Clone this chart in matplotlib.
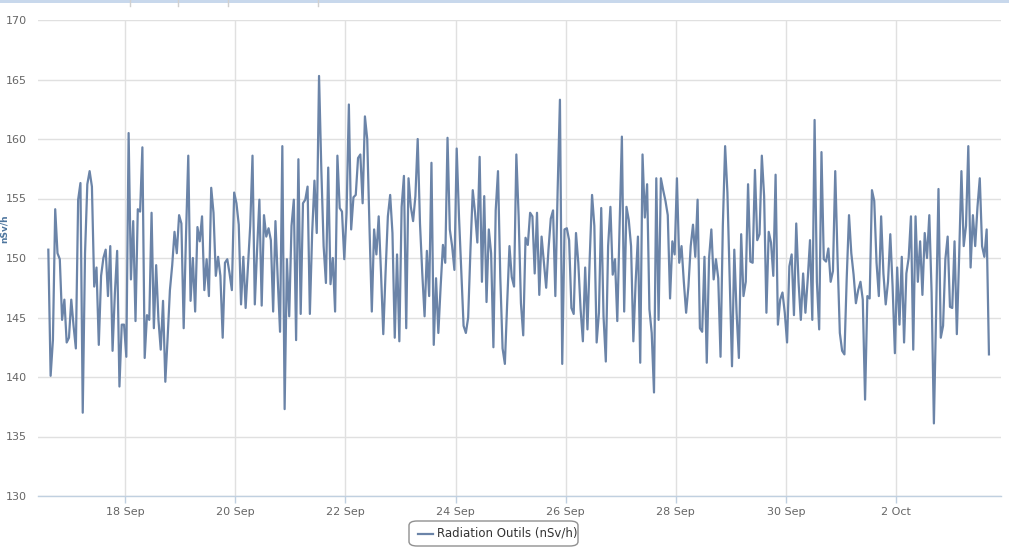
import numpy as np
import pandas as pd
import matplotlib
matplotlib.use('Agg')
import matplotlib.pyplot as plt
import matplotlib.dates as mdates
from matplotlib.patches import FancyBboxPatch, Rectangle
from matplotlib.lines import Line2D

### Data (hourly readings, nSv/h)
start_time = '2015-09-16 14:30'
series_name = 'Radiation Outils (nSv/h)'
y_title = 'nSv/h'
y_ticks = [130, 135, 140, 145, 150, 155, 160, 165, 170]
dose_rate = [
    150.7, 140.1, 143.1, 154.1, 150.4, 149.9, 144.8, 146.5, 142.9, 143.3, 146.5, 144.3,
    142.4, 154.9, 156.3, 137.0, 150.4, 156.2, 157.3, 156.0, 147.6, 149.2, 142.7, 148.5,
    150.0, 150.7, 146.8, 151.0, 142.2, 147.0, 150.6, 139.2, 144.4, 144.4, 141.7, 160.5,
    148.2, 153.1, 144.7, 154.1, 153.9, 159.3, 141.6, 145.2, 144.8, 153.8, 144.1, 149.4,
    144.8, 142.3, 146.4, 139.6, 143.3, 147.3, 149.4, 152.2, 150.4, 153.6, 152.9, 144.1,
    151.8, 158.6, 146.4, 150.0, 145.5, 152.6, 151.4, 153.5, 147.3, 149.9, 146.8, 155.9,
    153.8, 148.5,
    150.1, 148.5, 143.3, 149.6, 149.9, 148.7, 147.3, 155.5, 154.6, 152.8, 146.1, 150.1,
    145.8, 149.3, 152.7, 158.6, 146.1, 150.7, 154.9, 146.0, 153.6, 151.8, 152.5, 151.5,
    145.5, 153.1, 148.2, 143.8, 159.4, 137.3, 149.9, 145.1, 152.7, 154.9, 143.1, 158.3,
    145.3, 154.6, 154.9,
    156.0, 145.3, 152.1, 156.5, 152.1, 165.3, 157.4, 151.0, 147.9, 157.6, 147.8, 150.0,
    145.5, 158.6, 154.2, 153.9, 149.9, 153.8, 162.9, 152.4, 155.1, 155.3, 158.4, 158.7,
    154.6, 161.9, 160.0, 152.5, 145.5, 152.4, 150.3, 153.5, 148.8, 143.6, 148.8, 153.5,
    155.3, 152.1,
    143.3, 150.3, 143.0, 154.3, 156.9, 144.1, 156.7, 154.3, 153.1, 155.2, 160.0, 152.9,
    148.7, 145.1, 150.6, 146.8, 158.0, 142.7, 148.3, 143.7, 147.6, 151.1, 149.6, 160.1,
    152.4, 151.0, 149.0, 159.2, 153.5, 148.9, 144.3, 143.7, 145.0, 150.7, 155.7, 153.8,
    151.3, 158.5, 148.0,
    155.2, 146.3, 152.4, 150.4, 142.5, 154.0, 157.3, 148.4, 142.4, 141.1, 146.2, 151.0,
    148.4, 147.6, 158.7, 153.5, 146.2, 143.5, 151.7, 151.1, 153.8, 153.5, 148.7, 153.8,
    146.9, 151.8, 149.6, 147.5, 150.7, 153.3, 154.0, 146.8, 155.7, 163.3, 141.1, 152.4,
    152.5, 151.5,
    145.8, 145.3, 152.1, 149.6, 145.7, 143.0, 149.2, 144.0, 150.1, 155.3, 152.7, 142.9,
    145.4, 154.2, 145.1, 141.3, 151.0, 154.3, 148.6, 149.9, 144.7, 152.7, 160.2, 145.5,
    154.3, 153.2, 151.0, 143.0, 148.0, 151.8, 141.2, 158.7, 153.4, 156.2, 145.7, 143.7,
    138.7, 156.7,
    144.8, 156.7, 155.7, 154.8, 153.6, 146.6, 151.4, 150.3, 156.7, 149.6, 151.0, 148.0,
    145.4, 147.6, 151.0, 152.8, 150.1, 154.9, 144.1, 143.8, 150.1, 141.2, 150.0, 152.4,
    148.2, 149.9, 148.3, 141.7, 152.7, 159.4, 155.5, 148.3, 140.9, 150.7, 145.4, 141.6,
    152.0, 146.8,
    148.0, 156.2, 149.7, 149.6, 157.4, 151.5, 152.0, 158.6, 155.2, 145.4, 152.2, 151.3,
    148.5, 157.0, 144.4, 146.5, 147.1, 145.4, 142.9, 149.3, 150.3, 145.2, 152.9, 148.0,
    144.8, 148.7, 145.4, 148.2, 151.5, 144.8, 161.6, 148.0, 144.0, 158.9, 149.9, 149.7,
    150.8, 148.0,
    148.9, 157.3, 150.0, 143.7, 142.2, 141.9, 148.3, 153.6, 150.4, 148.6, 146.2, 147.3,
    148.0, 146.5, 138.1, 146.8, 146.6, 155.7, 154.8, 149.6, 146.8, 153.5, 148.7, 146.1,
    148.0, 152.0, 147.6, 142.0, 149.2, 144.4, 150.1, 142.9, 148.7, 150.0, 153.5, 142.3,
    153.5, 148.0,
    151.4, 146.9, 152.1, 150.0, 153.6, 147.1, 136.1, 145.7, 155.8, 143.3, 144.3, 149.9,
    151.8, 145.9, 145.8, 151.4, 143.6, 150.1, 157.3, 151.0, 152.7, 159.4, 149.2, 153.6,
    151.0, 154.3, 156.7, 151.0, 150.1, 152.4, 141.9,
]

times = pd.date_range(start_time, periods=len(dose_rate), freq='h')

### Figure
fig = plt.figure(figsize=(10.09, 5.55), dpi=100)
W, H = 1009.0, 555.0
ax = fig.add_axes([38 / W, 59 / H, (1001 - 38) / W, (496 - 20) / H])

ax.plot(times, dose_rate, color='#6b84a8', lw=1.6, solid_joinstyle='round', zorder=3)

ax.set_ylim(130, 170)
ax.set_yticks(y_ticks)
ax.set_xlim(pd.Timestamp('2015-09-16 10:00'), pd.Timestamp('2015-10-03 21:45'))
ax.xaxis.set_major_locator(mdates.DayLocator(bymonthday=[2, 18, 20, 22, 24, 26, 28, 30]))
ax.xaxis.set_major_formatter(mdates.DateFormatter('%-d %b'))

ax.grid(True, color='#e0e0e0', lw=1.0, zorder=0)
for s in ['top', 'right', 'left']:
    ax.spines[s].set_visible(False)
ax.spines['bottom'].set_color('#c0d0e0')
ax.spines['bottom'].set_linewidth(1.0)
ax.tick_params(axis='y', length=0, pad=8, labelsize=8, labelcolor='#666666')
ax.tick_params(axis='x', length=5, width=1, color='#c0d0e0', pad=3,
               labelsize=8, labelcolor='#666666')

# axis title squeezed against the left edge, between the 150 and 155 labels
fig.text(4.5 / W, 1 - 229 / H, y_title, rotation=90, ha='center', va='center',
         fontsize=6.5, fontweight='bold', color='#4d759e')

### Legend box
leg_box = FancyBboxPatch((409 / W, 1 - 546 / H), (578 - 409) / W, (546 - 521) / H,
                         boxstyle='round,pad=0,rounding_size=0.008',
                         transform=fig.transFigure, fc='white', ec='#909090', lw=1.0)
fig.patches.append(leg_box)
fig.lines.append(Line2D([418 / W, 433 / W], [1 - 533.5 / H] * 2, transform=fig.transFigure,
                        color='#6b84a8', lw=1.6))
fig.text(437 / W, 1 - 533.5 / H, series_name, ha='left', va='center',
         fontsize=8.5, color='#333333')

### Window chrome at the top
fig.patches.append(Rectangle((0, 1 - 3 / H), 1, 3 / H, transform=fig.transFigure,
                             fc='#c8d8ec', ec='none'))
for xs in [130, 178, 228, 318]:
    fig.lines.append(Line2D([xs / W] * 2, [1 - 6 / H, 1], transform=fig.transFigure,
                            color='#d0d0d0', lw=1))

plt.savefig('out.png', dpi=100)
